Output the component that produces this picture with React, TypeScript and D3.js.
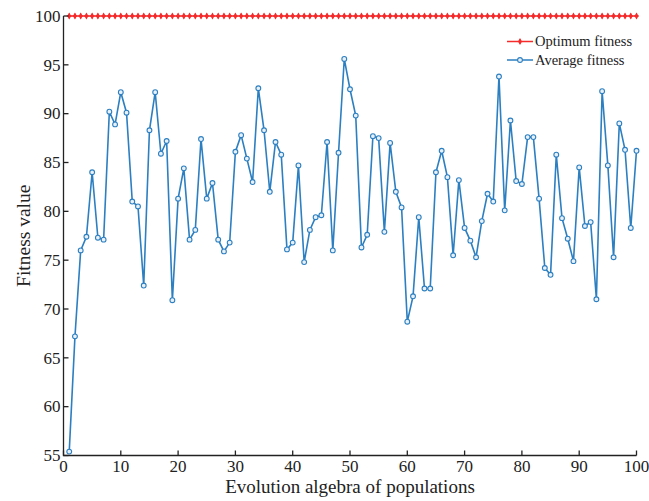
import React from 'react';
import * as d3 from 'd3';

// generations on the x axis
const generations: number[] = d3.range(1, 101);

const optimumFitness: number[] = [
    100, 100, 100, 100, 100, 100, 100, 100, 100, 100, 100, 100, 100, 100, 100, 100, 100, 100, 100, 100,
    100, 100, 100, 100, 100, 100, 100, 100, 100, 100, 100, 100, 100, 100, 100, 100, 100, 100, 100, 100,
    100, 100, 100, 100, 100, 100, 100, 100, 100, 100, 100, 100, 100, 100, 100, 100, 100, 100, 100, 100,
    100, 100, 100, 100, 100, 100, 100, 100, 100, 100, 100, 100, 100, 100, 100, 100, 100, 100, 100, 100,
    100, 100, 100, 100, 100, 100, 100, 100, 100, 100, 100, 100, 100, 100, 100, 100, 100, 100, 100, 100,
];

const averageFitness: number[] = [
    55.4, 67.2, 76.0, 77.4, 84.0, 77.3, 77.1, 90.2, 88.9, 92.2,
    90.1, 81.0, 80.5, 72.4, 88.3, 92.2, 85.9, 87.2, 70.9, 81.3,
    84.4, 77.1, 78.1, 87.4, 81.3, 82.9, 77.1, 75.9, 76.8, 86.1,
    87.8, 85.4, 83.0, 92.6, 88.3, 82.0, 87.1, 85.8, 76.1, 76.8,
    84.7, 74.8, 78.1, 79.4, 79.6, 87.1, 76.0, 86.0, 95.6, 92.5,
    89.8, 76.3, 77.6, 87.7, 87.5, 77.9, 87.0, 82.0, 80.4, 68.7,
    71.3, 79.4, 72.1, 72.1, 84.0, 86.2, 83.5, 75.5, 83.2, 78.3,
    77.0, 75.3, 79.0, 81.8, 81.0, 93.8, 80.1, 89.3, 83.1, 82.8,
    87.6, 87.6, 81.3, 74.2, 73.5, 85.8, 79.3, 77.2, 74.9, 84.5,
    78.5, 78.9, 71.0, 92.3, 84.7, 75.3, 89.0, 86.3, 78.3, 86.2,
];

const xTicks: number[] = [0, 10, 20, 30, 40, 50, 60, 70, 80, 90, 100];
const yTicks: number[] = [55, 60, 65, 70, 75, 80, 85, 90, 95, 100];

const legendLabels: string[] = ['Optimum fitness', 'Average fitness'];

const width = 649;
const height = 501;
const margin = { top: 16, right: 12.5, bottom: 45.5, left: 63.5 };

const RED = '#f52a2a';
const BLUE = '#2c7fc0';
const FONT = '"Liberation Serif", "Times New Roman", serif';

function App() {
    const x = d3.scaleLinear().domain([0, 100]).range([margin.left, width - margin.right]);
    const y = d3.scaleLinear().domain([55, 100]).range([height - margin.bottom, margin.top]);

    const line = d3.line<number>()
        .x((_, i) => x(generations[i]))
        .y((d) => y(d));

    const diamond = d3.symbol().type(d3.symbolDiamond).size(14)() as string;

    const x0 = x(0);
    const y0 = y(55);

    return (
        <div style={{ position: 'absolute', left: 0, top: 0 }}>
            <svg width={width} height={height} style={{ display: 'block', background: '#fff' }}>
                {/* red optimum series */}
                <path d={line(optimumFitness) as string} fill="none" stroke={RED} strokeWidth={1.5} />
                {optimumFitness.map((v, i) => (
                    <g key={'o' + i} transform={`translate(${x(generations[i])},${y(v)})`}>
                        <path d={diamond} fill={RED} />
                        <path d="M-2.5,0H2.5M0,-2.5V2.5" stroke={RED} strokeWidth={1} />
                    </g>
                ))}

                {/* blue average series */}
                <path d={line(averageFitness) as string} fill="none" stroke={BLUE} strokeWidth={1.6} />
                {averageFitness.map((v, i) => (
                    <circle key={'a' + i} cx={x(generations[i])} cy={y(v)} r={2.4}
                        fill="#e8f1fa" stroke={BLUE} strokeWidth={1.1} />
                ))}

                {/* axes */}
                <g stroke="#222" strokeWidth={1.3} fill="none">
                    <path d={`M${x0},${y(100)}V${y0}H${x(100)}`} />
                    {xTicks.map((t) => (
                        <path key={'xt' + t} d={`M${x(t)},${y0}v-5`} />
                    ))}
                    {yTicks.map((t) => (
                        <path key={'yt' + t} d={`M${x0},${y(t)}h5`} />
                    ))}
                </g>
                <g fontFamily={FONT} fontSize={17} fill="#222">
                    {xTicks.map((t) => (
                        <text key={'xl' + t} x={x(t)} y={y0 + 16} textAnchor="middle">{t}</text>
                    ))}
                    {yTicks.map((t) => (
                        <text key={'yl' + t} x={x0 - 3} y={y(t)} dy="0.34em" textAnchor="end">{t}</text>
                    ))}
                </g>
                <text x={(x(0) + x(100)) / 2} y={493} textAnchor="middle"
                    fontFamily={FONT} fontSize={19} fill="#222">Evolution algebra of populations</text>
                <text transform={`translate(30,${(y(55) + y(100)) / 2}) rotate(-90)`} textAnchor="middle"
                    fontFamily={FONT} fontSize={19.5} fill="#222">Fitness value</text>

                {/* legend */}
                <g fontFamily={FONT} fontSize={14.5} fill="#222">
                    {legendLabels.map((label, i) => {
                        const ly = 41.5 + i * 18.5;
                        const color = i === 0 ? RED : BLUE;
                        return (
                            <g key={label}>
                                <line x1={507} x2={533} y1={ly} y2={ly} stroke={color} strokeWidth={1.5} />
                                {i === 0 ? (
                                    <g transform={`translate(520,${ly})`}>
                                        <path d={diamond} fill={RED} />
                                        <path d="M-2.5,0H2.5M0,-2.5V2.5" stroke={RED} strokeWidth={1} />
                                    </g>
                                ) : (
                                    <circle cx={520} cy={ly} r={2.4} fill="#e8f1fa" stroke={BLUE} strokeWidth={1.1} />
                                )}
                                <text x={535} y={ly} dy="0.33em">{label}</text>
                            </g>
                        );
                    })}
                </g>
            </svg>
        </div>
    );
}

export default App;
